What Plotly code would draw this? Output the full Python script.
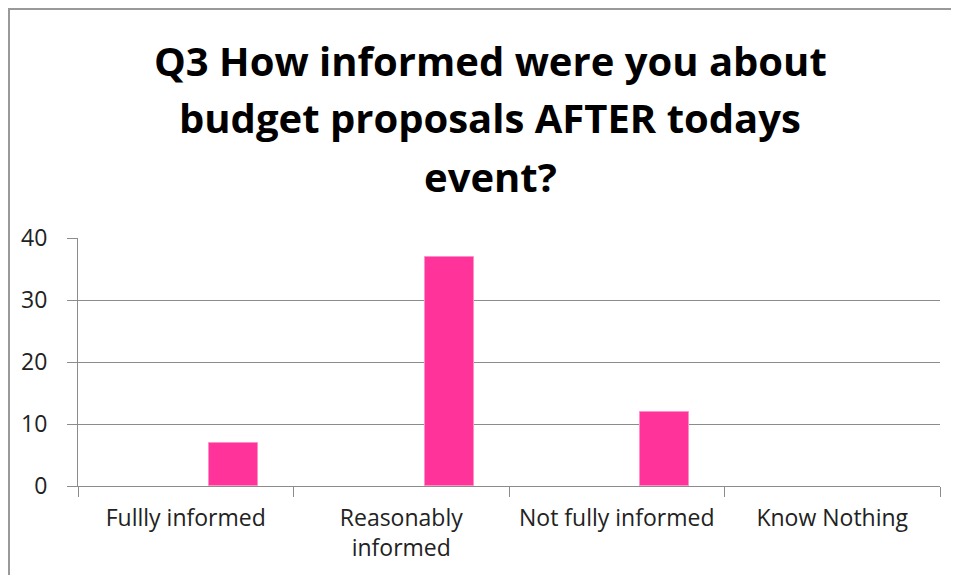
import plotly.graph_objects as go

categories = ["Fullly informed", "Reasonably<br>informed", "Not fully informed", "Know Nothing"]
values = [7, 37, 12, 0]
title_lines = ["Q3 How informed were you about", "budget proposals AFTER todays", "event?"]

# page has an 8px body margin; size the figure so the page matches the reference
OFF = 8
W, H = 959, 583
L, R, T, B = 78, 940, 238, 486
FW, FH = W - 2 * OFF, H - 2 * OFF

def px(x):
    return (x - L) / (R - L)

def py(y):
    return (B - y) / (B - T)

fig = go.Figure()
fig.add_trace(go.Bar(
    x=categories, y=values,
    width=0.227, offset=0.109,
    marker=dict(color="#FF3399",
                line=dict(color="#FF8FC7", width=[1 if v > 0 else 0 for v in values])),
    showlegend=False,
))

font_family = "'Open Sans', Lato, sans-serif"

fig.update_layout(
    width=FW, height=FH,
    margin=dict(l=L - OFF, r=FW - (R - OFF), t=T - OFF, b=FH - (B - OFF), pad=0,
                autoexpand=False),
    paper_bgcolor="white", plot_bgcolor="white",
    bargap=0,
    xaxis=dict(
        automargin=False,
        showline=True, linecolor="#8C8C8C", linewidth=1,
        ticks="outside", ticklen=10, tickcolor="#8C8C8C", tickson="boundaries",
        ticklabelstandoff=11,
        tickfont=dict(family=font_family, size=23, color="#222222"),
        showgrid=False,
    ),
    yaxis=dict(
        automargin=False,
        range=[0, 40], dtick=10,
        showline=True, linecolor="#8C8C8C", linewidth=1,
        ticks="outside", ticklen=10, tickcolor="#8C8C8C",
        ticklabelstandoff=15,
        tickfont=dict(family=font_family, size=23, color="#222222"),
        showgrid=True, gridcolor="#8C8C8C", gridwidth=1,
        zeroline=False,
    ),
)

centers = [60, 117, 176]
for line, cy in zip(title_lines, centers):
    fig.add_annotation(
        text="<b>" + line + "</b>", xref="paper", yref="paper",
        x=px(490), y=py(cy), xanchor="center", yanchor="middle",
        showarrow=False, font=dict(family=font_family, size=40, color="black"),
    )

# chart-area frame: left and top edges only (the rest is cropped in the reference)
fig.add_shape(type="line", xref="paper", yref="paper",
              x0=px(9), x1=px(9), y0=py(OFF + FH), y1=py(9),
              line=dict(color="#999999", width=2))
fig.add_shape(type="line", xref="paper", yref="paper",
              x0=px(8), x1=px(OFF + FW), y0=py(9), y1=py(9),
              line=dict(color="#999999", width=2))

fig.write_html("out.html")
